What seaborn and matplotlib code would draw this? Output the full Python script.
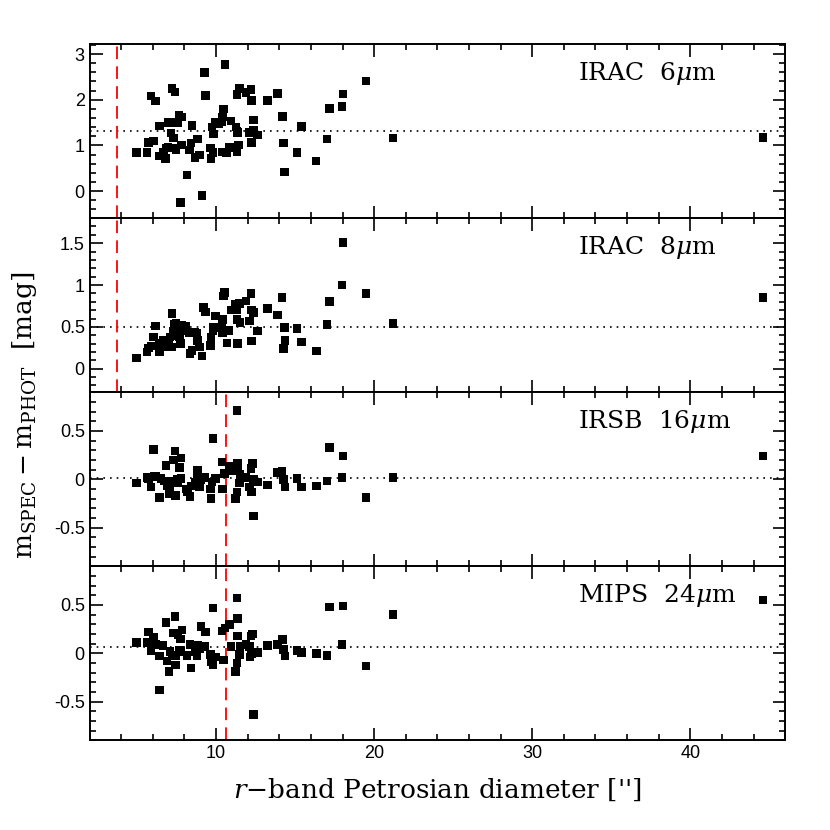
import numpy as np
import pandas as pd
import matplotlib
matplotlib.use('Agg')
import matplotlib.pyplot as plt
from matplotlib.ticker import MultipleLocator, FormatStrFormatter
import seaborn as sns

# Panel data: r-band Petrosian diameter vs m_spec - m_phot
x_6um = [4.95, 5.62, 5.73, 6.04, 5.87, 6.15, 6.42, 6.42, 6.69, 6.84, 6.80, 6.95, 6.99, 7.16,
         7.20, 7.41, 7.31, 7.26, 7.45, 7.43, 7.64, 7.58, 7.83, 7.81, 7.75, 8.17, 8.32, 8.42,
         8.48, 8.67, 8.84, 8.95, 9.12, 9.26, 9.33, 9.66, 9.68, 9.73, 9.83, 9.79, 9.96, 10.15,
         10.36, 10.42, 10.48, 10.57, 10.42, 10.67, 10.84, 10.95, 11.26, 11.33, 11.37, 11.33,
         11.47, 11.43, 11.33, 11.89, 12.21, 12.25, 12.36, 12.10, 12.36, 12.25, 12.63, 13.26,
         13.89, 14.21, 14.27, 14.32, 15.12, 15.41, 16.32, 17.01, 17.16, 17.96, 18.04, 19.48,
         21.2, 44.6]
y_6um = [0.85, 0.85, 1.06, 1.10, 2.08, 1.97, 1.43, 0.77, 0.86, 0.94, 0.72, 0.97, 1.50, 1.27,
         2.25, 2.17, 1.16, 0.94, 0.90, 1.50, 1.65, 1.49, 1.62, 1.01, -0.25, 0.35, 0.90, 1.05,
         1.44, 0.73, 1.14, 0.79, -0.09, 2.60, 2.09, 0.94, 0.72, 1.40, 1.25, 0.84, 1.50, 1.48,
         1.52, 1.62, 1.80, 2.77, 0.86, 0.84, 0.96, 1.53, 1.40, 1.32, 1.28, 2.12,
         2.25, 1.01, 0.86, 2.16, 2.22, 1.98, 1.56, 1.28, 1.34, 1.07, 1.23, 1.98,
         2.14, 1.63, 1.05, 0.42, 0.84, 1.41, 0.66, 1.14, 1.81, 1.85, 2.13, 2.41,
         1.16, 1.17]

x_8um = [4.95, 5.62, 5.73, 5.89, 6.04, 6.17, 6.42, 6.42, 6.63, 6.74, 6.95, 6.99, 7.09, 7.20,
         7.22, 7.31, 7.37, 7.43, 7.47, 7.58, 7.68, 7.75, 7.83, 7.83, 8.10, 8.32, 8.36, 8.48,
         8.67, 8.78, 8.84, 8.95, 9.12, 9.22, 9.33, 9.64, 9.68, 9.79, 9.85, 9.96, 10.38, 10.42,
         10.42, 10.46, 10.53, 10.69, 10.80, 10.95, 11.22, 11.31, 11.37, 11.33, 11.47, 11.52,
         11.89, 12.10, 12.21, 12.25, 12.36, 12.25, 12.63, 13.26, 13.89, 14.17, 14.32, 14.36,
         14.26, 15.12, 15.41, 16.36, 17.01, 17.16, 17.96, 18.04, 19.48, 21.2, 44.6]
y_8um = [0.13, 0.20, 0.25, 0.27, 0.38, 0.51, 0.20, 0.30, 0.34, 0.33, 0.26, 0.31, 0.38, 0.66,
         0.26, 0.45, 0.53, 0.40, 0.54, 0.50, 0.38, 0.30, 0.52, 0.46, 0.51, 0.43, 0.18, 0.22,
         0.43, 0.42, 0.34, 0.26, 0.15, 0.73, 0.68, 0.28, 0.38, 0.46, 0.49, 0.63, 0.54, 0.59,
         0.43, 0.87, 0.91, 0.31, 0.46, 0.70, 0.77, 0.70, 0.30, 0.59, 0.78, 0.55,
         0.81, 0.57, 0.90, 0.70, 0.67, 0.33, 0.45, 0.72, 0.64, 0.85, 0.49, 0.34,
         0.24, 0.48, 0.32, 0.21, 0.53, 0.80, 1.00, 1.51, 0.90, 0.54, 0.85]

x_16um = [4.95, 5.62, 5.73, 6.04, 5.89, 6.06, 6.20, 6.42, 6.52, 6.74, 6.84, 6.88, 7.01, 7.09,
          7.16, 7.26, 7.31, 7.41, 7.43, 7.52, 7.58, 7.68, 7.79, 7.79, 8.10, 8.20, 8.36, 8.42,
          8.67, 8.78, 8.84, 8.95, 9.05, 9.26, 9.64, 9.68, 9.73, 9.79, 9.96, 10.38, 10.42, 10.53,
          10.84, 10.95, 11.22, 11.33, 11.33, 11.37, 11.37, 11.47, 11.52, 11.89, 12.10, 12.21,
          12.31, 12.25, 12.36, 12.36, 12.63, 13.26, 13.89, 14.17, 14.27, 14.36, 15.12, 15.41,
          16.36, 17.01, 17.16, 17.96, 18.04, 19.48, 21.2, 44.6]
y_16um = [-0.04, 0.02, 0.01, 0.31, -0.08, 0.03, 0.03, -0.19, 0.01, -0.02, 0.14, -0.07, -0.15, -0.09,
          -0.03, -0.02, 0.20, 0.29, -0.17, 0.00, -0.04, 0.12, 0.22, 0.01, -0.10, -0.13, -0.18, -0.07,
          -0.03, 0.01, 0.09, -0.08, 0.00, 0.02, -0.10, -0.20, -0.03, 0.42, 0.01, 0.18, -0.10, 0.06,
          0.13, 0.09, -0.20, -0.13, 0.71, 0.16, 0.09, -0.04, 0.05, 0.02, -0.08, 0.11,
          0.16, -0.13, -0.38, 0.00, -0.03, -0.06, 0.07, 0.08, 0.00, -0.08, 0.01, -0.08,
          -0.07, -0.02, 0.33, 0.02, 0.24, -0.19, 0.02, 0.24]

x_24um = [4.95, 5.62, 5.73, 6.04, 5.89, 6.17, 6.42, 6.42, 6.63, 6.84, 6.90, 7.01, 7.09, 7.20,
          7.31, 7.41, 7.43, 7.47, 7.58, 7.68, 7.75, 7.85, 7.79, 8.17, 8.36, 8.42, 8.67, 8.78,
          8.84, 8.95, 9.05, 9.26, 9.33, 9.64, 9.68, 9.79, 9.79, 9.96, 10.38, 10.46, 10.57, 10.84,
          10.95, 11.22, 11.33, 11.33, 11.37, 11.37, 11.47, 11.52, 11.89, 12.10, 12.21, 12.31,
          12.15, 12.25, 12.36, 12.63, 13.26, 13.89, 14.21, 14.26, 14.36, 15.12, 15.41, 16.36,
          17.01, 17.16, 17.96, 18.04, 19.48, 21.2, 44.6]
y_24um = [0.11, 0.11, 0.22, 0.17, 0.03, 0.09, -0.03, -0.38, 0.08, 0.32, -0.08, -0.19, 0.02, -0.02,
          0.21, 0.38, -0.12, -0.03, 0.19, 0.03, 0.15, 0.24, 0.02, -0.02, 0.09, -0.15, 0.02, -0.02,
          0.08, 0.05, 0.28, 0.07, 0.22, -0.01, -0.09, -0.12, 0.47, -0.04, 0.23, -0.07, 0.26, 0.30,
          0.07, -0.19, -0.10, 0.57, 0.36, 0.18, -0.01, 0.07, 0.09, 0.07, 0.18, 0.20,
          -0.04, 0.00, -0.63, 0.01, 0.08, 0.09, 0.14, 0.04, -0.03, 0.03, 0.01, 0.00,
          -0.02, 0.48, 0.09, 0.49, -0.13, 0.40, 0.55]

band_labels = ['IRAC  6$\\mu$m', 'IRAC  8$\\mu$m', 'IRSB  16$\\mu$m', 'MIPS  24$\\mu$m']
median_offset = [1.32, 0.50, 0.01, 0.07]
aperture_size = [3.75, 3.75, 10.63, 10.63]
ylims = [(-0.59, 3.22), (-0.28, 1.8), (-0.9, 0.9), (-0.9, 0.9)]
ymajor = [1, 0.5, 0.5, 0.5]
yminor = [0.2, 0.1, 0.1, 0.1]

panels = [(x_6um, y_6um), (x_8um, y_8um), (x_16um, y_16um), (x_24um, y_24um)]

sns.set_style('ticks')
plt.rcParams['font.family'] = ['Liberation Sans', 'DejaVu Sans']
plt.rcParams['mathtext.fontset'] = 'dejavuserif'
plt.rcParams['axes.unicode_minus'] = False
plt.rcParams['text.color'] = 'black'
plt.rcParams['axes.labelcolor'] = 'black'

fig, axes = plt.subplots(4, 1, figsize=(8.3, 8.3), dpi=100, sharex=True)
fig.subplots_adjust(left=0.108, right=0.946, top=0.947, bottom=0.108, hspace=0)

for i, ax in enumerate(axes):
    xs, ys = panels[i]
    df = pd.DataFrame({'diam': xs, 'dmag': ys})
    sns.scatterplot(data=df, x='diam', y='dmag', ax=ax, marker='s', s=38,
                    color='black', edgecolor='none', zorder=3)
    ax.axhline(median_offset[i], color='black', ls=(0, (1, 3)), lw=1.2, zorder=1)
    ax.axvline(aperture_size[i], color='red', ls=(0, (7, 4)), lw=1.3, zorder=2)
    ax.set_xlim(2, 46)
    ax.set_ylim(*ylims[i])
    ax.xaxis.set_major_locator(MultipleLocator(10))
    ax.xaxis.set_minor_locator(MultipleLocator(2))
    ax.yaxis.set_major_locator(MultipleLocator(ymajor[i]))
    ax.yaxis.set_minor_locator(MultipleLocator(yminor[i]))
    ax.yaxis.set_major_formatter(FormatStrFormatter('%g'))
    ax.tick_params(which='both', direction='in', top=True, right=True, width=1.2,
                   labelsize=13, color='black', labelcolor='black')
    ax.tick_params(which='major', length=9)
    ax.tick_params(which='minor', length=4.5)
    for sp in ax.spines.values():
        sp.set_linewidth(1.4)
        sp.set_color('black')
    ax.set_xlabel('')
    ax.set_ylabel('')
    ax.text(0.702, 0.83, band_labels[i], transform=ax.transAxes, ha='left', va='center',
            fontsize=18, family='DejaVu Serif', color='black')

axes[-1].set_xlabel('$r$$-$band Petrosian diameter [\'\']', fontsize=19,
                    family='DejaVu Serif', labelpad=10, color='black')
fig.text(0.03, 0.5, '$\\mathrm{m_{SPEC}}-\\mathrm{m_{PHOT}}$  [mag]', rotation=90,
         ha='center', va='center', fontsize=19, family='DejaVu Serif', color='black')

fig.savefig('out.png', dpi=100)
